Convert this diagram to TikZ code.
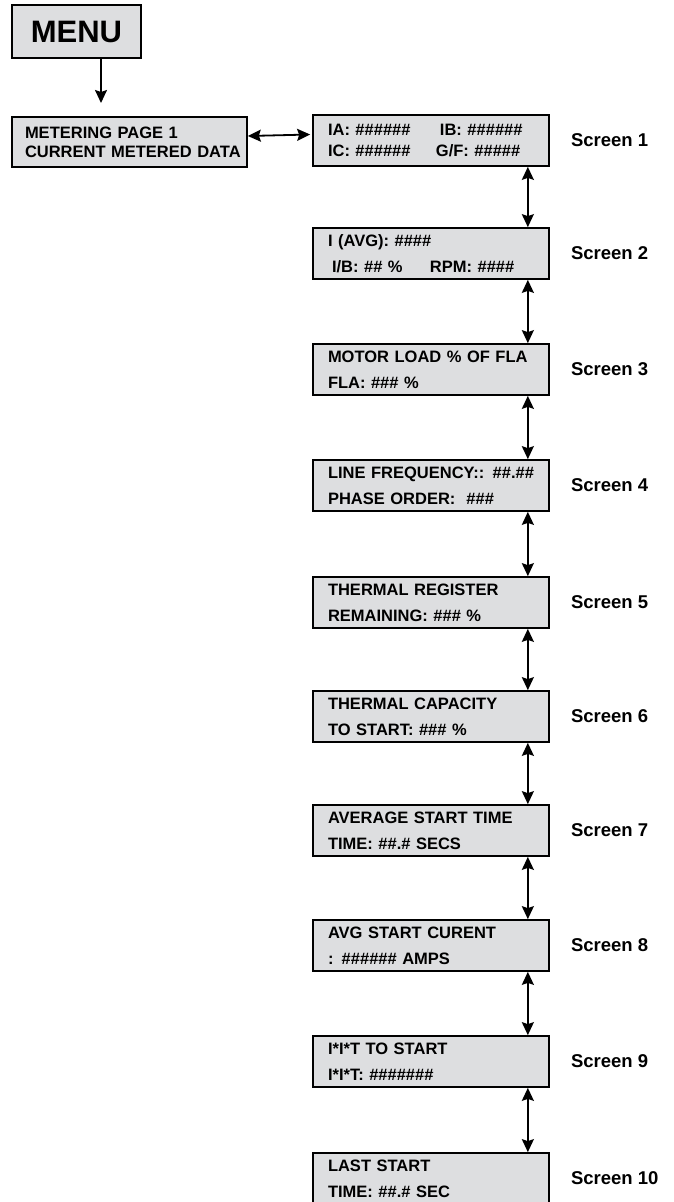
\documentclass[tikz,border=0pt]{standalone}
\usepackage{fontspec}
\setmainfont{Liberation Sans}
\usetikzlibrary{arrows.meta,positioning}
\definecolor{panelgray}{RGB}{221,222,224}
\tikzset{
  screen/.style={draw, line width=1.7pt, fill=panelgray, minimum width=236pt, minimum height=51pt,
    text width=206pt, inner sep=0pt, align=left, font=\bfseries\fontsize{16.5}{26}\selectfont},
  screenname/.style={inner sep=0pt, font=\bfseries\fontsize{18.5}{22}\selectfont},
  flow/.style={line width=1.8pt, -{Stealth[length=13pt,width=12pt,inset=2pt]}},
  twoway/.style={line width=1.8pt, {Stealth[length=13pt,width=12pt,inset=2pt]}-{Stealth[length=13pt,width=12pt,inset=2pt]}},
}
\begin{document}
\begin{tikzpicture}[x=1pt, y=-1pt]
    \useasboundingbox (0,0) rectangle (673,1202);
    % menu entry
    \node[draw, line width=1.7pt, fill=panelgray, minimum width=129pt, minimum height=53pt, inner sep=0pt,
          font=\bfseries\fontsize{31}{31}\selectfont] (menu) at (76.5,31.5) {MENU};
    \node[screen, minimum width=235pt, minimum height=50pt, text width=225pt, font=\bfseries\fontsize{16.5}{19}\selectfont]
          (meter) at (129.5,142) {\hspace*{8pt}METERING PAGE 1\\\hspace*{8pt}CURRENT METERED DATA};
    \coordinate (menuend) at (101,103);
    \draw[flow] (menu.south -| menuend) -- (menuend);
    % screens
    \node[screen] (s1) at (431,140.5) {\makebox[112pt][l]{IA: \#\#\#\#\#\#}IB: \#\#\#\#\#\#\\[-5pt]\makebox[108pt][l]{IC: \#\#\#\#\#\#}G/F: \#\#\#\#\#};
    \node[screen] (s2) at (431,253.5) {I (AVG): \#\#\#\#\\\hspace*{4pt}\makebox[98pt][l]{I/B: \#\# \%}RPM: \#\#\#\#};
    \node[screen] (s3) at (431,369.5) {MOTOR LOAD \% OF FLA\\FLA: \#\#\# \%};
    \node[screen] (s4) at (431,485.5) {LINE FREQUENCY:: \#\#.\#\#\\PHASE ORDER:\ \ \#\#\#};
    \node[screen] (s5) at (431,602.5) {THERMAL REGISTER\\REMAINING: \#\#\# \%};
    \node[screen] (s6) at (431,716.5) {THERMAL CAPACITY\\TO START: \#\#\# \%};
    \node[screen] (s7) at (431,830.5) {AVERAGE START TIME\\TIME: \#\#.\# SECS};
    \node[screen] (s8) at (431,945.5) {AVG START CURENT\\: \#\#\#\#\#\# AMPS};
    \node[screen] (s9) at (431,1061.5) {I*I*T TO START\\I*I*T: \#\#\#\#\#\#\#};
    \node[screen] (s10) at (431,1178.5) {LAST START\\TIME: \#\#.\# SEC};
    \draw[twoway] ([yshift=6pt]meter.east) -- ([yshift=6pt,xshift=-2pt]s1.west);
    \foreach \n in {1,...,10} {
        \node[screenname, right=21pt of s\n] (name\n) {Screen \n};
    }
    \foreach \a/\b in {1/2,2/3,3/4,4/5,5/6,6/7,7/8,8/9,9/10} {
        \draw[twoway] ([xshift=-22pt]s\a.south east) -- ([xshift=-22pt]s\b.north east);
    }
\end{tikzpicture}
\end{document}
